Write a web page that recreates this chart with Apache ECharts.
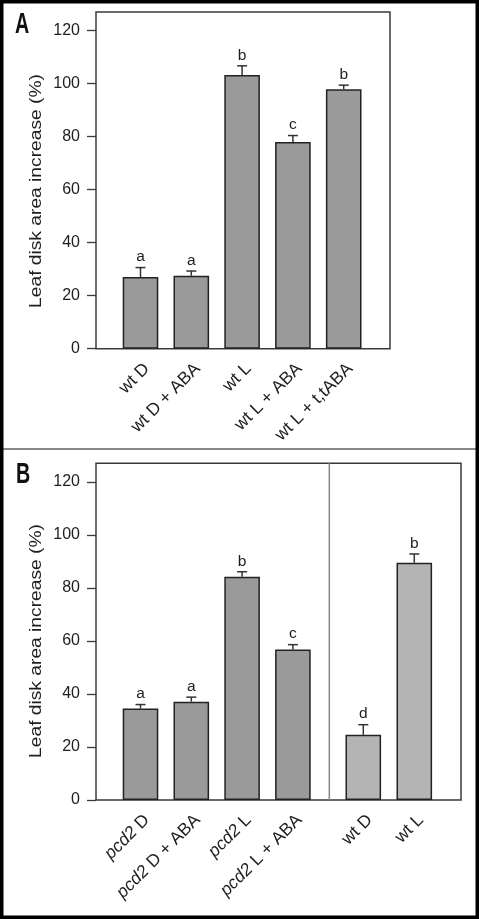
<!DOCTYPE html>
<html>
<head>
<meta charset="utf-8">
<script src="https://cdn.jsdelivr.net/npm/echarts@6/dist/echarts.min.js"></script>
<style>
html,body{margin:0;padding:0;background:#fff;}
#chart{width:479px;height:919px;}
</style>
</head>
<body>
<div id="chart"></div>
<script>
// ---- data ----
const catsA = ['wt D', 'wt D + ABA', 'wt L', 'wt L + ABA', 'wt L + t,tABA'];
const meanA = [27, 27.5, 103.2, 78, 97.9];
const errA = [3.6, 1.8, 3.5, 2.4, 1.5];
const letA = ['a', 'a', 'b', 'c', 'b'];

const catsB1 = ['pcd2 D', 'pcd2 D + ABA', 'pcd2 L', 'pcd2 L + ABA'];
const meanB1 = [34.5, 37.1, 84.2, 56.8];
const errB1 = [1.5, 1.7, 1.9, 1.8];
const letB1 = ['a', 'a', 'b', 'c'];

const catsB2 = ['wt D', 'wt L'];
const meanB2 = [24.6, 89.5];
const errB2 = [3.8, 3.3];
const letB2 = ['d', 'b'];

const yTicks = [0, 20, 40, 60, 80, 100, 120];
const yMax = 127;
const yTitle = 'Leaf disk area increase (%)';

// ---- layout / style ----
const FONT = 'Liberation Sans, Arial, sans-serif';
const TXT = '#1e1e1e';
const FRAME = '#3a3a3a';
const topA = 12, botA = 348.7, topB = 463.3, botB = 800;
const hA = botA - topA, hB = botB - topB;
const band = 50.8;

const chart = echarts.init(document.getElementById('chart'), null, {renderer: 'canvas'});

function frameGrid(left, top, width, height) {
  return {left, top, width, height, show: true, borderColor: FRAME, borderWidth: 1.5, backgroundColor: 'transparent'};
}
function plainGrid(left, top, width, height) {
  return {left, top, width, height};
}
function frameY(gi) {
  return {
    type: 'value', gridIndex: gi, min: 0, max: yMax,
    axisLine: {show: false},
    axisTick: {show: true, inside: false, length: 9, customValues: yTicks, lineStyle: {color: FRAME, width: 1.3}},
    axisLabel: {show: true, customValues: yTicks, margin: 16, fontSize: 16, fontFamily: FONT, color: TXT},
    splitLine: {show: false}
  };
}
function hiddenY(gi) {
  return {type: 'value', gridIndex: gi, min: 0, max: yMax, show: false, splitLine: {show: false}};
}
function catX(gi, cats) {
  return {
    type: 'category', gridIndex: gi, data: cats,
    axisLine: {show: false}, axisTick: {show: false}, splitLine: {show: false},
    axisLabel: {
      interval: 0, rotate: 45, margin: 11, fontSize: 17.5, fontFamily: FONT, color: TXT,
      align: 'right', verticalAlign: 'top',
      formatter: v => v.indexOf('pcd2') === 0 ? '{i|pcd2}' + v.slice(4) : v,
      rich: {i: {fontStyle: 'italic', fontSize: 17.5, fontFamily: FONT, color: TXT}}
    }
  };
}
function barSeries(axisIdx, vals, color) {
  return {
    type: 'bar', xAxisIndex: axisIdx, yAxisIndex: axisIdx, data: vals, barWidth: 35.6,
    itemStyle: {color: color, borderColor: '#222', borderWidth: 1.5},
    silent: true, animation: false
  };
}
function errSeries(axisIdx, vals, errs, lets) {
  return {
    type: 'custom', xAxisIndex: axisIdx, yAxisIndex: axisIdx,
    data: vals.map((v, i) => [i, v, errs[i]]),
    animation: false, silent: true, z: 5,
    renderItem: function (params, api) {
      const x = api.value(0), v = api.value(1), e = api.value(2);
      const letter = lets[params.dataIndex];
      const p0 = api.coord([x, v]);
      const p1 = api.coord([x, v + e]);
      const cap = 5;
      return {
        type: 'group',
        children: [
          {type: 'line', shape: {x1: p0[0], y1: p0[1], x2: p1[0], y2: p1[1]}, style: {stroke: '#333', lineWidth: 1.5}},
          {type: 'line', shape: {x1: p1[0] - cap, y1: p1[1], x2: p1[0] + cap, y2: p1[1]}, style: {stroke: '#333', lineWidth: 1.5}},
          {type: 'text', x: p1[0], y: p1[1] - 2.5, style: {text: letter, align: 'center', verticalAlign: 'bottom', fontSize: 15.5, fontFamily: FONT, fill: TXT}}
        ]
      };
    }
  };
}

const option = {
  animation: false,
  backgroundColor: '#fff',
  grid: [
    frameGrid(96, topA, 294, hA),                 // 0 frame A
    plainGrid(115.1, topA, band * 5, hA),         // 1 bars A
    frameGrid(96, topB, 365, hB),                 // 2 frame B
    plainGrid(115.1, topB, band * 4, hB),         // 3 bars B pcd2
    plainGrid(337.8, topB, 102, hB)               // 4 bars B wt
  ],
  xAxis: [
    {type: 'value', gridIndex: 0, show: false},
    catX(1, catsA),
    {type: 'value', gridIndex: 2, show: false},
    catX(3, catsB1),
    catX(4, catsB2)
  ],
  yAxis: [frameY(0), hiddenY(1), frameY(2), hiddenY(3), hiddenY(4)],
  series: [
    barSeries(1, meanA, '#9a9a9a'),
    errSeries(1, meanA, errA, letA),
    barSeries(3, meanB1, '#9a9a9a'),
    errSeries(3, meanB1, errB1, letB1),
    barSeries(4, meanB2, '#b4b4b4'),
    errSeries(4, meanB2, errB2, letB2)
  ],
  graphic: [
    {type: 'rect', shape: {x: 0, y: 0, width: 479, height: 919}, style: {fill: 'none', stroke: '#000', lineWidth: 7}, z: 100, silent: true},
    {type: 'line', shape: {x1: 0, y1: 449, x2: 479, y2: 449}, style: {stroke: '#888', lineWidth: 2}, silent: true},
    {type: 'line', shape: {x1: 329.3, y1: topB, x2: 329.3, y2: botB}, style: {stroke: '#888', lineWidth: 1.5}, silent: true},
    {type: 'text', x: 15, y: 10, scaleX: 0.68, style: {text: 'A', fontSize: 29, fontWeight: 'bold', fontFamily: FONT, fill: '#111'}, silent: true},
    {type: 'text', x: 16, y: 460, scaleX: 0.68, style: {text: 'B', fontSize: 29, fontWeight: 'bold', fontFamily: FONT, fill: '#111'}, silent: true},
    {type: 'text', x: 36, y: 191, rotation: Math.PI / 2, scaleX: 1.13, style: {text: yTitle, align: 'center', verticalAlign: 'middle', fontSize: 17, fontFamily: FONT, fill: TXT}, silent: true},
    {type: 'text', x: 36, y: 641, rotation: Math.PI / 2, scaleX: 1.13, style: {text: yTitle, align: 'center', verticalAlign: 'middle', fontSize: 17, fontFamily: FONT, fill: TXT}, silent: true}
  ]
};
chart.setOption(option);
</script>
</body>
</html>
